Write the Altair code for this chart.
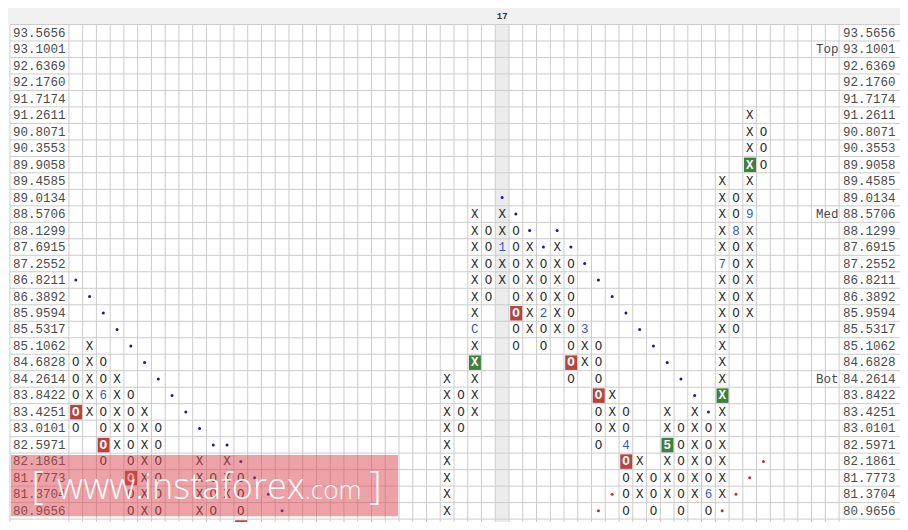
import altair as alt
import pandas as pd

# ---------------- data ----------------
prices = ["93.5656", "93.1001", "92.6369", "92.1760", "91.7174", "91.2611",
          "90.8071", "90.3553", "89.9058", "89.4585", "89.0134", "88.5706",
          "88.1299", "87.6915", "87.2552", "86.8211", "86.3892", "85.9594",
          "85.5317", "85.1062", "84.6828", "84.2614", "83.8422", "83.4251",
          "83.0101", "82.5971", "82.1861", "81.7773", "81.3704", "80.9656"]
next_level = "80.5628"          # partially visible row under the last one
n_cols = 56
date_col = 31
date_label = "17"
level_names = ["Top", "Med", "Bot"]
level_prices = ["93.1001", "88.5706", "84.2614"]

# boxes per price row, tokens are "column:symbol"
# X / O boxes, "." blue trend dot, "," red trend dot, digits / C = month marks
boxes = [
    ("91.2611", "49:X"),
    ("90.8071", "49:X 50:O"),
    ("90.3553", "49:X 50:O"),
    ("89.9058", "49:X 50:O"),
    ("89.4585", "47:X 49:X"),
    ("89.0134", "31:. 47:X 48:O 49:X"),
    ("88.5706", "29:X 31:X 32:. 47:X 48:O 49:9"),
    ("88.1299", "29:X 30:O 31:X 32:O 33:. 35:. 47:X 48:8 49:X"),
    ("87.6915", "29:X 30:O 31:1 32:O 33:X 34:. 35:X 36:. 47:X 48:O 49:X"),
    ("87.2552", "29:X 30:O 31:X 32:O 33:X 34:O 35:X 36:O 37:. 47:7 48:O 49:X"),
    ("86.8211", "0:. 29:X 30:O 31:X 32:O 33:X 34:O 35:X 36:O 38:. 47:X 48:O 49:X"),
    ("86.3892", "1:. 29:X 30:O 32:O 33:X 34:O 35:X 36:O 39:. 47:X 48:O 49:X"),
    ("85.9594", "2:. 29:X 32:O 33:X 34:2 35:X 36:O 40:. 47:X 48:O 49:X"),
    ("85.5317", "3:. 29:C 32:O 33:X 34:O 35:X 36:O 37:3 41:. 47:X 48:O"),
    ("85.1062", "1:X 4:. 29:X 32:O 34:O 36:O 37:X 38:O 42:. 47:X"),
    ("84.6828", "0:O 1:X 2:O 5:. 29:X 36:O 37:X 38:O 43:. 47:X"),
    ("84.2614", "0:O 1:X 2:O 3:X 6:. 27:X 29:X 36:O 38:O 44:. 47:X"),
    ("83.8422", "0:O 1:X 2:6 3:X 4:O 7:. 27:X 28:O 29:X 38:O 39:X 45:. 47:X"),
    ("83.4251", "0:O 1:X 2:O 3:X 4:O 5:X 8:. 27:X 28:O 29:X 38:O 39:X 40:O 43:X 45:X 46:. 47:X"),
    ("83.0101", "0:O 2:O 3:X 4:O 5:X 6:O 9:. 27:X 28:O 38:O 39:X 40:O 43:X 44:O 45:X 46:O 47:X"),
    ("82.5971", "2:O 3:X 4:O 5:X 6:O 10:. 11:. 27:X 38:O 40:4 43:5 44:O 45:X 46:O 47:X"),
    ("82.1861", "2:O 4:O 5:X 6:O 9:X 11:X 12:. 27:X 40:O 41:X 43:X 44:O 45:X 46:O 47:X 50:,"),
    ("81.7773", "4:O 5:X 6:O 9:X 10:O 11:X 12:O 13:. 27:X 40:O 41:X 42:O 43:X 44:O 45:X 46:O 47:X 49:,"),
    ("81.3704", "4:O 5:X 6:O 9:X 10:O 11:X 12:O 14:. 27:X 39:, 40:O 41:X 42:O 43:X 44:O 45:X 46:6 47:X 48:,"),
    ("80.9656", "4:O 5:X 6:O 9:X 10:O 12:O 15:. 27:X 38:, 40:O 42:O 44:O 46:O 47:,"),
]
red_box_cols = [0, 2, 4, 32, 36, 38, 40, 12]
red_box_prices = ["83.4251", "82.5971", "81.7773", "85.9594", "84.6828", "83.8422", "82.1861", "80.5628"]
green_box_cols = [29, 49, 47, 43]
green_box_prices = ["84.6828", "89.9058", "83.8422", "82.5971"]

# ---------------- layout ----------------
CW, RH = 14.0, 17.0                 # reference cell size (px)
X0 = -62 / CW                       # left edge (label gutter)
X1 = (908 - 62) / CW                # right edge
Y0 = -1.0                           # header band
Y1 = 530 / RH - 1
W, H = 892, 514

all_levels = prices + [next_level]
row_of = {p: i for i, p in enumerate(all_levels)}

xs = alt.Scale(domain=[X0, X1], nice=False, zero=False)
ys = alt.Scale(domain=[Y0, Y1], nice=False, zero=False, reverse=True)


def ex(f="x"):
    return alt.X(f"{f}:Q", scale=xs, axis=None)


def ey(f="y"):
    return alt.Y(f"{f}:Q", scale=ys, axis=None)


FONT = "Liberation Mono"

# ---------- cells ----------
recs = []
for p, s in boxes:
    for tok in s.split():
        c, sym = tok.split(":")
        recs.append({"col": int(c), "row": row_of[p], "sym": sym})
cells = pd.DataFrame(recs)
cells["x"] = cells["col"] + 0.5
cells["y"] = cells["row"] + 0.5

boxed = set(zip(red_box_cols, [row_of[p] for p in red_box_prices])) | \
    set(zip(green_box_cols, [row_of[p] for p in green_box_prices]))
cells["boxed"] = [(c, r) in boxed for c, r in zip(cells["col"], cells["row"])]

plain = cells[(~cells["boxed"]) & cells["sym"].isin(["X", "O"])]
marks = cells[(~cells["boxed"]) & ~cells["sym"].isin(["X", "O", ".", ","])]
blue_dots = cells[cells["sym"] == "."]
red_dots = cells[cells["sym"] == ","]
boxed_txt = cells[cells["boxed"]]

bx = pd.DataFrame({
    "col": red_box_cols + green_box_cols,
    "row": [row_of[p] for p in red_box_prices] + [row_of[p] for p in green_box_prices],
    "kind": ["red"] * len(red_box_cols) + ["green"] * len(green_box_cols),
})
bx["x"] = bx["col"] + 1.2 / CW
bx["x2"] = bx["col"] + 1 - 0.6 / CW
bx["y"] = bx["row"] + 1.2 / RH
bx["y2"] = bx["row"] + 1 - 0.8 / RH

# ---------- backgrounds & grid ----------
header = alt.Chart(pd.DataFrame({"x": [X0], "x2": [X1], "y": [Y0], "y2": [0.0]})).mark_rect(
    color="#f0f0f0").encode(x=ex(), x2="x2", y=ey(), y2="y2")
hl = alt.Chart(pd.DataFrame({"x": [date_col], "x2": [date_col + 1], "y": [0.0], "y2": [Y1]})).mark_rect(
    color="#ececec").encode(x=ex(), x2="x2", y=ey(), y2="y2")

vlines = pd.DataFrame({"x": [X0 + 2 / CW] + list(range(0, n_cols + 1))})
vlines["y"] = 0.0
vlines["y2"] = Y1
vgrid = alt.Chart(vlines).mark_rule(color="#cccccc", strokeWidth=1).encode(x=ex(), y=ey(), y2="y2")

hlines = pd.DataFrame({"y": list(range(0, len(prices) + 1))})
hlines["x"] = X0 + 2 / CW
hlines["x2"] = X1
hgrid = alt.Chart(hlines).mark_rule(color="#cccccc", strokeWidth=1).encode(y=ey(), x=ex(), x2="x2")

boxes_layer = alt.Chart(bx).mark_rect(clip=True).encode(
    x=ex(), x2="x2", y=ey(), y2="y2",
    color=alt.Color("kind:N", scale=alt.Scale(domain=["red", "green"], range=["#b5463f", "#3f7f3f"]),
                    legend=None))

plain_layer = alt.Chart(plain).mark_text(font=FONT, fontSize=12.5, color="#2a2a2a",
                                          align="center", baseline="middle").encode(
    x=ex(), y=ey(), text="sym:N")
marks_layer = alt.Chart(marks).mark_text(font=FONT, fontSize=12.5, color="#3a56c0",
                                          align="center", baseline="middle").encode(
    x=ex(), y=ey(), text="sym:N")
boxed_layer = alt.Chart(boxed_txt).mark_text(font=FONT, fontSize=12.5, fontWeight="bold", color="white",
                                              align="center", baseline="middle").encode(
    x=ex(), y=ey(), text="sym:N")
bdots = alt.Chart(blue_dots).mark_circle(size=9, color="#1c1c90", opacity=1).encode(x=ex(), y=ey())
rdots = alt.Chart(red_dots).mark_circle(size=9, color="#cc2a2a", opacity=1).encode(x=ex(), y=ey())

# ---------- axis labels ----------
lab = pd.DataFrame({"label": prices, "y": [row_of[p] + 0.5 for p in prices]})
lab["xl"] = X0 + 5 / CW
lab["xr"] = n_cols + 4 / CW
left_lab = alt.Chart(lab).mark_text(font=FONT, fontSize=12.5, color="#4a4a4a", align="left",
                                     baseline="middle").encode(x=ex("xl"), y=ey(), text="label:N")
right_lab = alt.Chart(lab).mark_text(font=FONT, fontSize=12.5, color="#4a4a4a", align="left",
                                      baseline="middle").encode(x=ex("xr"), y=ey(), text="label:N")
lv = pd.DataFrame({"name": level_names, "y": [row_of[p] + 0.5 for p in level_prices]})
lv["x"] = n_cols - 0.6 / CW
lv_lab = alt.Chart(lv).mark_text(font=FONT, fontSize=12.5, color="#4a4a4a", align="right",
                                  baseline="middle").encode(x=ex(), y=ey(), text="name:N")
hd = pd.DataFrame({"label": [date_label], "x": [date_col + 0.5], "y": [-0.5]})
hd_lab = alt.Chart(hd).mark_text(font=FONT, fontSize=9, fontWeight="bold", color="#333333",
                                  align="center", baseline="middle").encode(x=ex(), y=ey(), text="label:N")

# ---------- watermark ----------
wm = pd.DataFrame({"x": [(3 - 62) / CW], "x2": [(397 - 62) / CW],
                   "y": [(461 - 17) / RH], "y2": [(524 - 17) / RH]})
wm_rect = alt.Chart(wm).mark_rect(color="#d9464d", opacity=0.5).encode(x=ex(), x2="x2", y=ey(), y2="y2")
wm_txt = pd.DataFrame({
    "t": ["[", "www.instaforex", ".com", "]"],
    "x": [(24 - 62) / CW, (50 - 62) / CW, (302 - 62) / CW, (368 - 62) / CW],
    "size": [38, 36, 26, 38],
})
wm_txt["y"] = (506 - 17) / RH
wm_text = alt.Chart(wm_txt).mark_text(font="Open Sans", color="white", opacity=0.95, align="left",
                                       baseline="alphabetic", fontWeight=300).encode(
    x=ex(), y=ey(), text="t:N", size=alt.Size("size:Q", scale=None, legend=None))

chart = alt.layer(
    header, hl, vgrid, hgrid, boxes_layer, plain_layer, marks_layer, boxed_layer,
    bdots, rdots, left_lab, right_lab, lv_lab, hd_lab, wm_rect, wm_text
).properties(
    width=W, height=H, padding=0,
    autosize=alt.AutoSizeParams(type="none"),
    background="white",
).configure_view(stroke=None)

chart.save("out.html", embed_options={"renderer": "svg", "actions": False})
